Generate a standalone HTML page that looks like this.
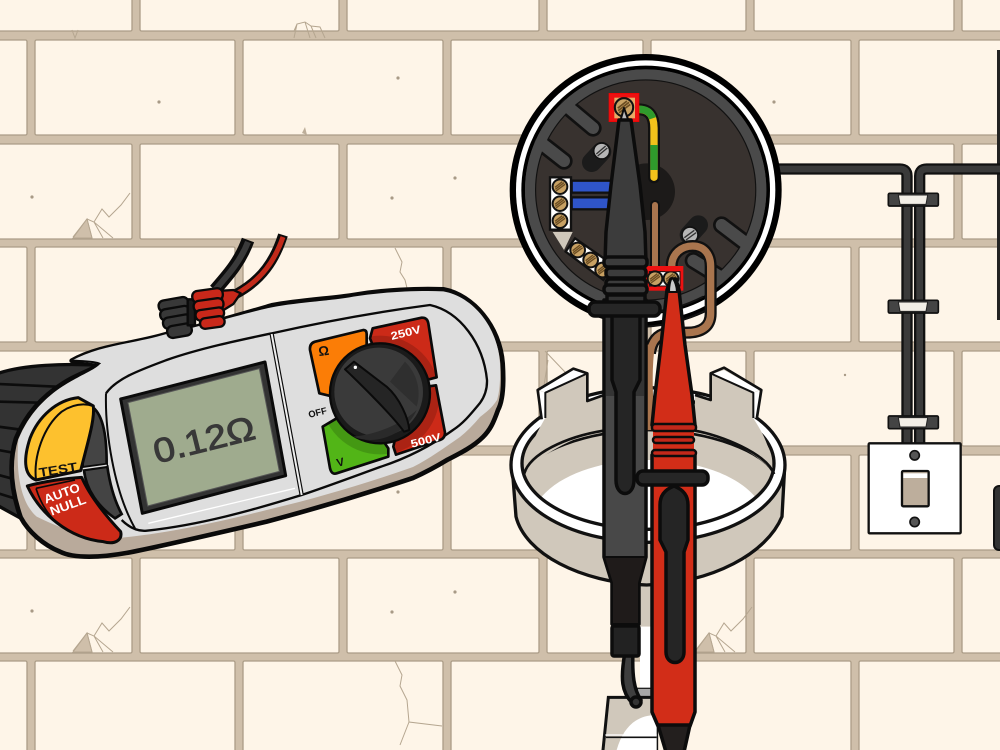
<!DOCTYPE html>
<html><head><meta charset="utf-8"><style>
html,body{margin:0;padding:0;background:#fef5e8;width:1000px;height:750px;overflow:hidden}
svg{display:block}
text{font-family:"Liberation Sans",sans-serif;font-weight:bold}
</style></head><body>
<svg xmlns="http://www.w3.org/2000/svg" width="1000" height="750" viewBox="0 0 1000 750">
<defs>
<g id="ra" fill="#fef5e8" stroke="#ab9c87" stroke-width="1.3">
<rect x="-10" y="0" width="142" height="95" rx="1.5"/><rect x="140" y="0" width="199" height="95" rx="1.5"/><rect x="347" y="0" width="192" height="95" rx="1.5"/><rect x="547" y="0" width="199" height="95" rx="1.5"/><rect x="754" y="0" width="200" height="95" rx="1.5"/><rect x="962" y="0" width="50" height="95" rx="1.5"/>
</g>
<g id="rb" fill="#fef5e8" stroke="#ab9c87" stroke-width="1.3">
<rect x="-10" y="0" width="37" height="95" rx="1.5"/><rect x="35" y="0" width="200" height="95" rx="1.5"/><rect x="243" y="0" width="200" height="95" rx="1.5"/><rect x="451" y="0" width="192" height="95" rx="1.5"/><rect x="651" y="0" width="200" height="95" rx="1.5"/><rect x="859" y="0" width="150" height="95" rx="1.5"/>
</g>
<g id="crack" fill="none" stroke="#b5a690" stroke-width="1">
<path d="M130,193 L121,205 L109,217 L102,209 L94,222" />
<path d="M73,237 L87,219 L94,222 L113,238 M87,219 L92,238 M94,222 L103,238" />
<path d="M73,238 L87,219 L92,238 Z" fill="#cfbfaa"/>
</g>
<g id="clip">
<rect x="355" y="192" width="150" height="38" rx="4" fill="#444" stroke="#111" stroke-width="5"/>
<path d="M385,197 H473 L468,225 H390 Z" fill="#f2eee6" stroke="#222" stroke-width="3"/>
</g>
<g id="scr"><circle r="22" fill="#c8a163" stroke="#111" stroke-width="6"/><path d="M-14,8 L12,-12 M-12,13 L15,-7 M-15,2 L7,-15" stroke="#6b4d22" stroke-width="4"/></g>
<clipPath id="padc"><path d="M1118,295 L1265,263 Q1282,262 1285,280 L1310,442 L1280,450 L1140,400 L1110,325Z"/><path d="M1308,466 L1335,608 Q1335,625 1320,630 L1188,674 L1180,650 L1200,560 L1280,470Z"/><path d="M968,590 L1010,565 L1100,560 L1165,655 L1165,680 L1010,730 Q995,735 990,715Z"/></clipPath>
<clipPath id="floorc"><ellipse cx="444" cy="370" rx="378" ry="198"/></clipPath>
</defs>

<rect width="1000" height="750" fill="#cfbfaa"/>
<use href="#ra" y="-64"/><use href="#rb" y="40"/><use href="#ra" y="144"/><use href="#rb" y="247"/><use href="#ra" y="351"/><use href="#rb" y="455"/><use href="#ra" y="558"/><use href="#rb" y="661"/>

<!-- wall marks -->
<use href="#crack"/><use href="#crack" y="414"/><use href="#crack" x="622" y="414"/>
<g fill="none" stroke="#b5a690" stroke-width="1">
<path d="M294,31 L297,24 L305,22 L311,26 L320,27 L325,38 M297,24 L294,38 M305,22 L310,38 M311,26 L316,38"/>
<path d="M395,248 L402,262 L400,272 L405,280 L407,288" />
<path d="M395,661 L402,675 L400,686 L407,700 L409,722 L442,726 M409,722 L400,745"/>
<path d="M545,351 L565,372 L568,390 L580,380 M548,360 L543,392"/>
<path d="M72,30 L75,38 L78,30" />
</g>
<path d="M302,133 L305,127 L307,135Z" fill="#bdae99"/>
<g fill="#a89a86"><circle cx="159" cy="102" r="1.6"/><circle cx="398" cy="78" r="1.6"/><circle cx="32" cy="197" r="1.6"/><circle cx="455" cy="178" r="1.6"/><circle cx="392" cy="198" r="1.6"/><circle cx="32" cy="611" r="1.6"/><circle cx="455" cy="592" r="1.6"/><circle cx="392" cy="612" r="1.6"/><circle cx="398" cy="492" r="1.6"/><circle cx="774" cy="102" r="1.6"/><circle cx="845" cy="375" r="1.2"/></g>
<rect x="997" y="50" width="3" height="270" fill="#222"/>
<rect x="994" y="486" width="12" height="64" rx="5" fill="#333" stroke="#111" stroke-width="2"/>

<!-- cables, clips and switch -->
<g transform="translate(770,130) scale(.33333)">
<g fill="none" stroke-linejoin="round">
<path d="M20,117 H390 Q411,117 411,138 V960" stroke="#111" stroke-width="34"/>
<path d="M20,117 H390 Q411,117 411,138 V960" stroke="#3a3a3a" stroke-width="20"/>
<path d="M700,117 H470 Q449,117 449,138 V960" stroke="#111" stroke-width="34"/>
<path d="M700,117 H470 Q449,117 449,138 V960" stroke="#3a3a3a" stroke-width="20"/>
</g>
<use href="#clip" y="-2"/><use href="#clip" y="319"/><use href="#clip" y="666"/>
<rect x="296" y="940" width="276" height="270" fill="#fff" stroke="#111" stroke-width="7" rx="3"/>
<circle cx="434" cy="976" r="14" fill="#555" stroke="#111" stroke-width="5"/>
<circle cx="434" cy="1176" r="14" fill="#555" stroke="#111" stroke-width="5"/>
<rect x="396" y="1023" width="80" height="106" rx="4" fill="#bdae9c" stroke="#111" stroke-width="7"/>
<rect x="400" y="1030" width="72" height="14" fill="#fff"/>
</g>

<!-- base ring -->
<g transform="translate(500,340) scale(.33333)">
<path d="M420,730 H455 V860 H420Z" fill="#d0c8bb"/>
<rect x="420" y="860" width="35" height="185" fill="#fff"/>
<rect x="412" y="1045" width="50" height="28" fill="#a8a8a8" stroke="#222" stroke-width="4"/>
<path d="M325,1072 H470 V1240 H308 Z" fill="#d0c8bb" stroke="#111" stroke-width="9"/>
<path d="M350,1230 C370,1160 410,1125 470,1125 V1230Z" fill="#fff"/>
<path d="M318,1192 H470" stroke="#111" stroke-width="5"/><path d="M316,1185 H470" stroke="#fff" stroke-width="4"/>

<path d="M38,400 L48,530 C75,640 240,728 440,735 C640,728 800,640 846,530 L853,400Z" fill="#d0c8bb" stroke="#111" stroke-width="10" stroke-linejoin="round"/>
<ellipse cx="444" cy="375" rx="411" ry="232" fill="#fff" stroke="#111" stroke-width="10"/>
<ellipse cx="444" cy="370" rx="378" ry="198" fill="#d0c8bb"/>
<g clip-path="url(#floorc)"><path d="M125,470 C190,395 320,360 444,360 C570,360 700,395 765,470 L765,600 H125Z" fill="#fff"/></g>
<ellipse cx="444" cy="370" rx="378" ry="198" fill="none" stroke="#111" stroke-width="10"/>
<path d="M72,402 C90,340 260,270 444,270 C630,270 800,340 822,402" fill="none" stroke="#111" stroke-width="8"/>
<!-- teeth -->
<path d="M135,235 L115,150 L220,88 L262,100 V183 L310,165 V268 C240,285 130,335 78,395 C80,330 110,280 135,235Z" fill="#d0c8bb"/>
<path d="M760,235 L782,150 L672,85 L632,100 V180 L585,165 V268 C660,285 770,335 818,395 C815,330 790,280 760,235Z" fill="#d0c8bb"/>
<path d="M72,402 C90,340 200,290 310,272 M585,272 C660,285 800,340 822,402" fill="none" stroke="#111" stroke-width="8"/>
<path d="M118,150 L220,90 L258,102 L136,158Z" fill="#fff"/>
<path d="M118,152 L136,158 V232 L124,236Z" fill="#fff"/>
<path d="M778,150 L672,90 L636,102 L760,158Z" fill="#fff"/>
<path d="M778,152 L760,158 V232 L772,236Z" fill="#fff"/>
<g fill="none" stroke="#111" stroke-linejoin="round">
<path d="M125,238 L113,150 L220,86 L262,100 V183 L312,165" stroke-width="8"/>
<path d="M136,234 V158 L258,102" stroke-width="6"/>
<path d="M770,238 L784,150 L672,83 L632,100 V180 L585,165" stroke-width="8"/>
<path d="M760,234 V158 L636,102" stroke-width="6"/>
</g>
</g>

<!-- socket -->
<g transform="translate(500,50) scale(.33333)">
<circle cx="437" cy="420" r="408" fill="#000"/>
<circle cx="437" cy="420" r="389" fill="#fff"/>
<circle cx="437" cy="420" r="373" fill="#000"/>
<circle cx="437" cy="420" r="362" fill="#4a4a4a"/>
<circle cx="437" cy="420" r="333" fill="#38322f" stroke="#111" stroke-width="9"/>
<g fill="none" stroke-linecap="round">
<path d="M205,172 L279,234 M128,283 L192,333" stroke="#111" stroke-width="52"/>
<path d="M665,525 L735,578 M580,632 L655,678" stroke="#111" stroke-width="52"/>
<path d="M275,337 L305,305 M568,555 L595,525" stroke="#1b1b1b" stroke-width="58"/>
</g>
<circle cx="437" cy="420" r="347" fill="none" stroke="#4a4a4a" stroke-width="30"/>
<g fill="none" stroke-linecap="round">
<path d="M205,172 L279,234 M128,283 L192,333" stroke="#4a4a4a" stroke-width="36"/>
<path d="M665,525 L735,578 M580,632 L655,678" stroke="#4a4a4a" stroke-width="36"/>
</g>
<circle cx="305" cy="303" r="24" fill="#b5b5b5" stroke="#111" stroke-width="5"/><path d="M289,312 L317,288 M293,318 L322,294" stroke="#333" stroke-width="4"/>
<circle cx="570" cy="555" r="24" fill="#b5b5b5" stroke="#111" stroke-width="5"/><path d="M553,563 L583,541 M558,570 L588,548" stroke="#333" stroke-width="4"/>
<circle cx="440" cy="425" r="85" fill="#1c1a19"/>
<!-- earth -->
<path d="M415,178 C450,178 462,200 462,235 V382" fill="none" stroke="#111" stroke-width="36" stroke-linecap="round"/>
<path d="M415,178 C450,178 462,200 462,235 V382" fill="none" stroke="#f2c21b" stroke-width="22" stroke-linecap="round"/>
<path d="M418,178 C440,178 452,188 458,205 M462,285 V360" fill="none" stroke="#2f9a2c" stroke-width="22"/>
<!-- brown -->
<path d="M465,465 V660" stroke="#111" stroke-width="30" stroke-linecap="round"/><path d="M465,465 V660" stroke="#a9754e" stroke-width="18" stroke-linecap="round"/>
<!-- blue -->
<rect x="215" y="392" width="125" height="36" fill="#2f55c9" stroke="#111" stroke-width="7"/>
<rect x="215" y="442" width="115" height="36" fill="#2f55c9" stroke="#111" stroke-width="7"/>
<!-- terminals -->
<rect x="150" y="382" width="63" height="157" fill="#fff" stroke="#111" stroke-width="7"/>
<use href="#scr" x="180" y="410"/><use href="#scr" x="180" y="461"/><use href="#scr" x="180" y="512"/>
<path d="M158,546 H218 L192,600Z" fill="#d0c8bb"/>
<path d="M225,565 L340,645 L310,690 L197,605Z" fill="#fff" stroke="#111" stroke-width="7"/>
<use href="#scr" x="233" y="600"/><use href="#scr" x="272" y="630"/><use href="#scr" x="308" y="660"/>
<rect x="327" y="130" width="90" height="85" fill="#ee1111" stroke="#e00" stroke-width="2"/>
<rect x="343" y="143" width="62" height="62" fill="#e8ab66"/>
<g transform="translate(372,172) scale(1.25)"><circle r="22" fill="#c8a163" stroke="#111" stroke-width="5"/><path d="M-14,8 L12,-12 M-12,13 L15,-7 M-15,2 L7,-15" stroke="#6b4d22" stroke-width="4"/></g>
<!-- lower white wires -->
<path d="M430,810 C500,805 570,785 615,760" fill="none" stroke="#fff" stroke-width="14"/>
<path d="M440,790 C500,785 560,765 610,740 M440,830 C510,825 570,805 620,780" fill="none" stroke="#111" stroke-width="6"/>
<!-- red terminal -->
<rect x="438" y="648" width="112" height="74" fill="#ee1111"/>
<rect x="448" y="665" width="92" height="43" fill="#fff" stroke="#111" stroke-width="3"/>
<use href="#scr" x="465" y="686"/><use href="#scr" x="513" y="686"/>
<!-- loop -->
<path d="M515,650 C515,610 545,588 578,588 C612,588 632,612 632,650 V790 C632,830 605,848 560,848 H500 C470,855 455,875 450,910" fill="none" stroke="#111" stroke-width="36"/>
<path d="M515,650 C515,610 545,588 578,588 C612,588 632,612 632,650 V790 C632,830 605,848 560,848 H500 C470,855 455,875 450,910" fill="none" stroke="#a9754e" stroke-width="22"/>
<rect x="495" y="648" width="40" height="16" fill="#ee1111"/>
</g>

<!-- brown wire behind probes -->
<path d="M650,345 C646,370 648,400 650,430" fill="none" stroke="#a9754e" stroke-width="10"/>

<!-- black probe -->
<g stroke="#0c0c0c" stroke-width="3.5" stroke-linejoin="round">
<path d="M604,300 H646 V557 L639,583 V624 H612 V583 L604,557Z" fill="#484848"/>
<path d="M604,557 H646 L639,583 V624 H612 V583Z" fill="#1f1b1a" stroke-width="2"/>
<rect x="606" y="316" width="38" height="80" fill="#343434" stroke="none"/>
<path d="M612,306 H640 V380 L634,392 V480 C634,498 616,498 616,480 V392 L612,380Z" fill="#252525"/>
<path d="M625,652 C620,680 622,692 632,703 L641,700 C634,690 632,675 633,652Z" fill="#3e3e3e"/>
<circle cx="636" cy="702" r="5" fill="#333"/>
<rect x="612" y="626" width="27" height="30" rx="2" fill="#222"/>
<path d="M620,122 L624,108 L629,122Z" fill="#bbb" stroke-width="2"/>
<path d="M619,120 H631 L640,185 L645,232 L646,262 H605 L606,232 L611,185Z" fill="#3c3c3c"/>
<g fill="#3c3c3c"><rect x="604" y="257" width="43" height="10" rx="4"/><rect x="606" y="268" width="40" height="10" rx="4"/><rect x="606" y="279" width="40" height="10" rx="4"/><rect x="604" y="285" width="43" height="9" rx="4"/></g>
<rect x="607" y="295" width="38" height="14" fill="#333"/>
<rect x="589" y="302" width="71" height="14" rx="6" fill="#262626"/>
</g>

<!-- red probe -->
<g stroke="#0c0c0c" stroke-width="3.5" stroke-linejoin="round">
<path d="M667,290 L671,279 L676,279 L679,290 L685,345 L692,395 L695,425 H652 L655,395 L661,345Z" fill="#d22d18"/>
<path d="M652,455 H695 V712 L690,726 H658 L652,712Z" fill="#d22d18"/>
<path d="M658,725 H690 L684,752 H666Z" fill="#231f1e"/>
<rect x="653" y="425" width="41" height="32" fill="#d22d18" stroke="none"/>
<g fill="#c3281a" stroke-width="2.5"><rect x="652" y="424" width="44" height="7" rx="3"/><rect x="653" y="437" width="41" height="6" rx="3"/><rect x="652" y="450" width="44" height="6" rx="3"/></g>
<path d="M674,486 C684,490 688,496 688,505 V540 L684,552 V652 C684,666 666,666 666,652 V552 L660,540 V505 C660,496 664,490 674,486Z" fill="#252525"/>
<rect x="637" y="471" width="71" height="14" rx="6" fill="#262626"/>
<path d="M672,278 C675,280 677,287 677,292 H669 C669,287 670,280 672,278Z" fill="#c9c9c9" stroke-width="2"/>
</g>

<!-- leads -->
<g fill="none">
<path d="M215,290 C228,275 240,262 248,240" stroke="#0c0c0c" stroke-width="13"/>
<path d="M215,290 C228,275 240,262 248,242" stroke="#3a3a3a" stroke-width="6"/>
<path d="M236,294 C262,280 275,260 283,235" stroke="#0c0c0c" stroke-width="10"/>
<path d="M236,294 C262,280 275,260 283,237" stroke="#c22a1a" stroke-width="5"/>
</g>

<!-- meter -->
<g transform="translate(0,230) scale(.33333)">
<path d="M-10,432 C60,405 200,398 320,408 L160,520 L90,880 L-10,825Z" fill="#333" stroke="#0c0c0c" stroke-width="10"/>
<g stroke="#0c0c0c" stroke-width="8" fill="none">
<path d="M-5,462 L170,470 M-5,515 L120,518 M-5,590 L70,600 M-5,660 L60,672 M-5,735 L60,752 M-5,790 L75,815"/>
</g>
<path d="M215,392 C300,345 400,342 500,312 C600,290 750,245 815,226 C900,210 1000,205 1060,195 C1150,180 1250,175 1330,178 C1420,195 1500,290 1508,400 C1512,460 1510,510 1494,540 C1480,580 1470,600 1449,621 C1420,650 1380,670 1341,690 C1300,715 1270,730 1239,744 C1100,790 950,835 800,875 C650,910 500,945 400,965 C300,985 220,985 180,965 C130,945 85,905 62,862 C30,770 28,690 48,625 C85,535 150,480 215,445 C255,425 290,412 300,402Z" fill="#b9aa9b" stroke="#0a0a0a" stroke-width="14" stroke-linejoin="round"/>
<path d="M215,392 C300,345 400,342 500,312 C600,290 750,245 815,232 C900,216 1000,212 1060,200 C1150,186 1250,181 1330,184 C1420,200 1494,292 1500,400 C1502,450 1498,490 1491,510 C1475,535 1460,545 1440,561 C1420,585 1400,605 1380,621 C1330,655 1290,685 1239,711 C1100,760 950,805 800,840 C650,878 480,915 340,925 C270,930 170,890 110,860 C75,830 45,760 55,630 C90,540 155,485 220,450 C255,430 290,415 300,402Z" fill="#dedede"/>
<path d="M215,392 C290,395 300,400 300,402" stroke="#0a0a0a" stroke-width="6" fill="none"/>
<path d="M318,490 C350,445 420,420 500,390 C600,355 720,330 815,310 C950,280 1100,250 1290,225 C1380,245 1450,340 1461,450 C1462,480 1450,505 1440,519 C1410,555 1390,580 1359,600 C1290,650 1220,685 1140,711 C1060,740 980,770 905,795 C760,840 600,885 440,902 C410,905 385,890 365,870" fill="none" stroke="#0a0a0a" stroke-width="7"/>
<path d="M318,490 C315,600 340,780 405,895" fill="none" stroke="#0a0a0a" stroke-width="6"/>
<path d="M445,880 L885,775" stroke="#fff" stroke-width="4"/>
<!-- separator -->
<path d="M815,312 L905,795" stroke="#0a0a0a" stroke-width="13"/>
<path d="M815,312 L905,795" stroke="#efefef" stroke-width="6"/>
<!-- lcd -->
<path d="M362,507 L795,396 L857,737 L427,850Z" fill="#333" stroke="#0a0a0a" stroke-width="9" stroke-linejoin="round"/>
<path d="M384,518 L778,416 L838,724 L443,828Z" fill="#9fab8e" stroke="#555" stroke-width="3"/>
<text x="612" y="628" transform="rotate(-14 612 628) translate(0,36)" font-size="102" text-anchor="middle" fill="#383838" stroke="#383838" stroke-width="3" style="font-weight:normal" textLength="310" lengthAdjust="spacingAndGlyphs">0.12Ω</text>
<!-- dark pads -->
<path d="M248,712 C245,640 255,570 285,538 C315,570 320,640 320,703Z" fill="#444" stroke="#0a0a0a" stroke-width="8"/>
<path d="M252,720 L322,710 C330,765 345,815 365,852 L345,865 C295,830 258,780 252,720Z" fill="#444" stroke="#0a0a0a" stroke-width="8"/>
<path d="M248,716 L320,706" stroke="#e0e0e0" stroke-width="4"/>
<!-- yellow -->
<path d="M108,750 C68,735 72,680 90,625 C115,560 170,510 235,503 L280,528 C285,570 262,640 242,722Z" fill="#fdc12e" stroke="#0a0a0a" stroke-width="9" stroke-linejoin="round"/>
<path d="M108,750 C100,680 130,590 185,545 C215,525 245,517 280,528" fill="none" stroke="#0a0a0a" stroke-width="6"/>
<text x="176" y="732" transform="rotate(-9 176 732)" font-size="38" text-anchor="middle" fill="#111" textLength="116" lengthAdjust="spacingAndGlyphs">TEST</text>
<!-- red -->
<path d="M82,768 C130,755 195,745 245,742 C270,800 320,860 362,905 C368,930 345,945 310,935 C205,925 120,850 82,768Z" fill="#cc2a18" stroke="#0a0a0a" stroke-width="9" stroke-linejoin="round"/>
<path d="M108,775 L225,750 M108,775 C125,830 155,870 190,892" fill="none" stroke="#0a0a0a" stroke-width="5"/>
<text x="190" y="802" transform="rotate(-20 190 802)" font-size="38" text-anchor="middle" fill="#fff" textLength="112" lengthAdjust="spacingAndGlyphs">AUTO</text>
<text x="208" y="838" transform="rotate(-20 208 838)" font-size="38" text-anchor="middle" fill="#fff" textLength="112" lengthAdjust="spacingAndGlyphs">NULL</text>
<!-- pads -->
<g stroke="#0a0a0a" stroke-width="8" stroke-linejoin="round">
<path d="M945,335 L1090,300 Q1100,300 1100,312 L1100,420 L1000,500 L958,490 L930,360 Q928,340 945,335Z" fill="#fb7d06"/>
<path d="M1118,295 L1265,263 Q1282,262 1285,280 L1310,442 L1280,450 L1140,400 L1110,325Z" fill="#cc2a18"/>
<path d="M1308,466 L1335,608 Q1335,625 1320,630 L1188,674 L1180,650 L1200,560 L1280,470Z" fill="#cc2a18"/>
<path d="M968,590 L1010,565 L1100,560 L1165,655 L1165,680 L1010,730 Q995,735 990,715Z" fill="#52b517"/>
</g>
<g clip-path="url(#padc)"><circle cx="1140" cy="495" r="178" fill="#000" opacity=".16"/></g>
<text x="1220" y="319" transform="rotate(-14 1220 319)" font-size="33" text-anchor="middle" fill="#fff" textLength="92" lengthAdjust="spacingAndGlyphs">250V</text>
<text x="1280" y="642" transform="rotate(-14 1280 642)" font-size="33" text-anchor="middle" fill="#fff" textLength="92" lengthAdjust="spacingAndGlyphs">500V</text>
<text x="955" y="557" transform="rotate(-14 955 557)" font-size="28" text-anchor="middle" fill="#111" textLength="56" lengthAdjust="spacingAndGlyphs">OFF</text>
<text x="973" y="376" transform="rotate(-8 973 376)" font-size="40" text-anchor="middle" fill="#111">Ω</text>
<text x="1024" y="708" transform="rotate(-14 1024 708)" font-size="34" text-anchor="middle" fill="#111">V</text>
<!-- dial -->
<circle cx="1140" cy="490" r="150" fill="#1a1a1a" stroke="#0a0a0a" stroke-width="7"/>
<circle cx="1136" cy="486" r="133" fill="#3a3a3a"/>
<path d="M1250,540 C1220,610 1130,650 1060,620 C1160,610 1230,560 1250,540Z" fill="#2a2a2a"/>
<path d="M1215,395 C1250,430 1265,480 1250,530 L1170,455Z" fill="#2f2f2f"/>
<path d="M1035,418 L1062,395 L1160,470 C1200,505 1225,565 1228,600 L1212,605 C1180,560 1090,470 1035,418Z" fill="#252525" stroke="#0a0a0a" stroke-width="6" stroke-linejoin="round"/>
<circle cx="1066" cy="412" r="5" fill="#fff"/>
<!-- plugs -->
<g stroke="#0a0a0a" stroke-width="7" stroke-linejoin="round">
<path d="M665,182 L700,180 L722,190 L700,222 L668,242Z" fill="#c9281a"/>
<g transform="rotate(-10 530 260)">
<rect x="482" y="205" width="90" height="34" rx="16" fill="#383838"/>
<rect x="482" y="232" width="90" height="34" rx="16" fill="#383838"/>
<rect x="486" y="258" width="86" height="34" rx="16" fill="#383838"/>
<rect x="494" y="285" width="74" height="36" rx="16" fill="#383838"/>
</g>
<rect x="563" y="208" width="22" height="78" fill="#1c1c1c"/>
<g transform="rotate(-8 630 235)">
<rect x="582" y="178" width="92" height="36" rx="16" fill="#c9281a"/>
<rect x="582" y="208" width="90" height="34" rx="16" fill="#c9281a"/>
<rect x="584" y="236" width="86" height="32" rx="15" fill="#c9281a"/>
<rect x="594" y="262" width="74" height="32" rx="15" fill="#c9281a"/>
</g>
</g>
</g>
</svg>
</body></html>
